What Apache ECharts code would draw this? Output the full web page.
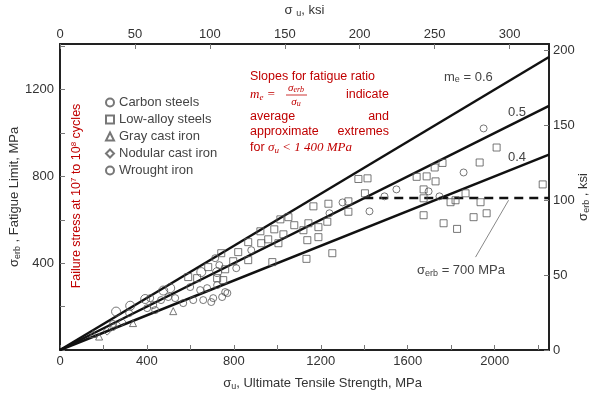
<!DOCTYPE html>
<html>
<head>
<meta charset="utf-8">
<script src="https://cdn.jsdelivr.net/npm/echarts@6/dist/echarts.min.js"></script>
<style>
  html, body { margin: 0; padding: 0; background: #fff; }
  #chart { width: 592px; height: 399px; }
</style>
</head>
<body>
<div id="chart"></div>
<script>
// axis ranges (MPa) and conversion to ksi
const xMaxMPa = 2250;
const yMaxMPa = 1410;
const mpaPerKsi = 6.895;

// data points [sigma_u MPa, sigma_erb MPa]
const carbonSteels = [
    [244, 120], [318, 170], [401, 193], [429, 207], [438, 184], [465, 230], [498, 244],
    [530, 239], [567, 216], [415, 239], [599, 290], [613, 230], [645, 276], [659, 230],
    [677, 285], [696, 221], [705, 239], [723, 299], [746, 244], [760, 267], [714, 423],
    [733, 391], [811, 377], [880, 460], [770, 262],
    [1240, 630], [1300, 680], [1424, 639], [1493, 708], [1548, 740], [1696, 731],
    [1746, 708], [1857, 818], [1949, 1021]
];
const lowAlloySteels = [
    [590, 336], [631, 331], [682, 382], [723, 331], [751, 322], [742, 446], [760, 372],
    [797, 409], [820, 451], [866, 497], [866, 414], [922, 547], [926, 492], [958, 510],
    [977, 405], [986, 556], [1005, 492], [1014, 602], [1028, 533], [1051, 612],
    [1078, 575], [1120, 552], [1138, 506], [1143, 584], [1134, 420], [1166, 662],
    [1189, 566], [1189, 520], [1230, 591], [1235, 674], [1253, 446], [1327, 685],
    [1327, 637], [1373, 788], [1415, 791], [1403, 722],
    [1641, 798], [1687, 800], [1724, 841], [1760, 862], [1728, 777], [1673, 740],
    [1673, 699], [1673, 621], [1765, 584], [1827, 558], [1797, 681], [1820, 690],
    [1866, 722], [1935, 681], [1903, 612], [1963, 630], [1931, 864], [2009, 933],
    [2221, 763]
];
const grayCastIron = [[152, 74], [180, 62], [336, 124], [521, 179]];
const nodularCastIron = [[217, 87], [286, 129], [246, 106]];
const wroughtIron = [[258, 177], [323, 204], [392, 235], [475, 274], [507, 285], [650, 359], [723, 359]];

// fatigue ratio lines and the 700 MPa cap
const line06 = [[0, 0], [2250, 1350]];
const line05 = [[0, 0], [2250, 1125]];
const line04 = [[0, 0], [2250, 900]];
const cap700 = [[1400, 700], [2250, 700]];
const leader = [[1912, 428], [2064, 690]];

const legendNames = ['Carbon steels', 'Low-alloy steels', 'Gray cast iron', 'Nodular cast iron', 'Wrought iron'];

const red = '#c00000';
const gray = '#555';
const font = 'Arial, "Liberation Sans", sans-serif';
const mathFont = '"Liberation Serif", "DejaVu Serif", serif';

let chart = echarts.init(document.getElementById('chart'));

function pointSeries(name, data, symbol, size) {
    return {
        name: name,
        type: 'scatter',
        data: data,
        symbol: symbol,
        symbolSize: size,
        itemStyle: {
            color: 'rgba(0,0,0,0)',
            borderColor: gray,
            borderWidth: 1
        },
        z: 3
    };
}

function straightLine(data, dashed) {
    return {
        type: 'line',
        data: data,
        symbol: 'none',
        silent: true,
        lineStyle: {
            color: '#111',
            width: 2.5,
            type: dashed ? [9, 6] : 'solid'
        },
        z: 2
    };
}

const axisText = { color: '#333', fontSize: 13, fontFamily: font };
const axisLineStyle = { onZero: false, lineStyle: { color: '#222', width: 2 } };
const tickStyle = { inside: true, length: 5, lineStyle: { color: '#777' } };
const subRich = {
    sub: { fontSize: 9, fontFamily: font, color: '#333', padding: [7, 0, 0, 0] }
};

chart.setOption({
    animation: false,
    grid: { left: 60, right: 43, top: 44, bottom: 49, outerBoundsMode: 'none' },
    legend: {
        data: legendNames,
        orient: 'vertical',
        left: 100,
        top: 91,
        itemWidth: 8,
        itemHeight: 8,
        itemGap: 4,
        textStyle: { color: '#444', fontSize: 13, fontFamily: font }
    },
    xAxis: [{
        type: 'value',
        position: 'bottom',
        min: 0,
        max: xMaxMPa,
        interval: 200,
        name: 'σ{sub|u}, Ultimate Tensile Strength, MPa',
        nameLocation: 'middle',
        nameGap: 25,
        nameMoveOverlap: false,
        nameTextStyle: { ...axisText, padding: [0, 0, 0, 36], rich: subRich },
        axisLine: axisLineStyle,
        axisTick: tickStyle,
        splitLine: { show: false },
        axisLabel: {
            ...axisText,
            margin: 5,
            showMaxLabel: false,
            formatter: v => (v % 400 === 0 ? String(v) : '')
        }
    }, {
        type: 'value',
        position: 'top',
        min: 0,
        max: xMaxMPa / mpaPerKsi,
        interval: 50,
        name: 'σ {sub|u}, ksi',
        nameLocation: 'middle',
        nameGap: 26,
        nameMoveOverlap: false,
        nameTextStyle: { ...axisText, rich: subRich },
        axisLine: axisLineStyle,
        axisTick: tickStyle,
        splitLine: { show: false },
        axisLabel: { ...axisText, margin: 3, showMaxLabel: false }
    }],
    yAxis: [{
        type: 'value',
        position: 'left',
        min: 0,
        max: yMaxMPa,
        interval: 200,
        name: 'σ{sub|erb} , Fatigue Limit, MPa',
        nameLocation: 'middle',
        nameGap: 38,
        nameMoveOverlap: false,
        nameTextStyle: { ...axisText, rich: subRich },
        axisLine: axisLineStyle,
        axisTick: tickStyle,
        splitLine: { show: false },
        axisLabel: {
            ...axisText,
            margin: 6,
            showMaxLabel: false,
            formatter: v => (v % 400 === 0 && v > 0 ? String(v) : '')
        }
    }, {
        type: 'value',
        position: 'right',
        min: 0,
        max: yMaxMPa / mpaPerKsi,
        interval: 50,
        name: 'σ{sub|erb} , ksi',
        nameLocation: 'middle',
        nameGap: 26,
        nameRotate: 90,
        nameMoveOverlap: false,
        nameTextStyle: { ...axisText, rich: subRich },
        axisLine: axisLineStyle,
        axisTick: tickStyle,
        splitLine: { show: false },
        axisLabel: { ...axisText, margin: 4, showMaxLabel: false }
    }],
    series: [
        straightLine(line06),
        straightLine(line05),
        straightLine(line04),
        straightLine(cap700, true),
        {
            type: 'line',
            data: leader,
            symbol: 'none',
            silent: true,
            lineStyle: { color: '#888', width: 1 },
            z: 2
        },
        pointSeries('Carbon steels', carbonSteels, 'circle', 7),
        pointSeries('Low-alloy steels', lowAlloySteels, 'rect', 7),
        pointSeries('Gray cast iron', grayCastIron, 'triangle', 7),
        pointSeries('Nodular cast iron', nodularCastIron, 'diamond', 8),
        pointSeries('Wrought iron', wroughtIron, 'circle', 9)
    ],
    graphic: [
        // slope labels
        {
            type: 'text', x: 444, y: 77,
            style: {
                text: 'm{s|e} = 0.6', fill: '#444', font: '13px ' + font, verticalAlign: 'middle',
                rich: { s: { fontSize: 9, fill: '#444', padding: [6, 0, 0, 0] } }
            }
        },
        { type: 'text', x: 508, y: 112, style: { text: '0.5', fill: '#444', font: '13px ' + font, verticalAlign: 'middle' } },
        { type: 'text', x: 508, y: 157, style: { text: '0.4', fill: '#444', font: '13px ' + font, verticalAlign: 'middle' } },
        {
            type: 'text', x: 417, y: 270,
            style: {
                text: 'σ{s|erb} = 700 MPa', fill: '#444', font: '13px ' + font, verticalAlign: 'middle',
                rich: { s: { fontSize: 9, fill: '#444', padding: [7, 0, 0, 0] } }
            }
        },
        // red note on fatigue ratio
        { type: 'text', x: 250, y: 77, style: { text: 'Slopes for fatigue ratio', fill: red, font: '12.5px ' + font, verticalAlign: 'middle' } },
        {
            type: 'text', x: 250, y: 95,
            style: {
                text: 'm{s|e} =', fill: red, font: 'italic 13px ' + mathFont, verticalAlign: 'middle',
                rich: { s: { fontSize: 9, fill: red, fontStyle: 'italic', fontFamily: mathFont, padding: [6, 0, 0, 0] } }
            }
        },
        {
            type: 'text', x: 296, y: 88,
            style: { text: 'σ{s|erb}', fill: red, font: 'italic 11px ' + mathFont, align: 'center', verticalAlign: 'middle',
                rich: { s: { fontSize: 8, fill: red, fontStyle: 'italic', fontFamily: mathFont, padding: [4, 0, 0, 0] } } }
        },
        { type: 'line', shape: { x1: 286, y1: 95, x2: 307, y2: 95 }, style: { stroke: red, lineWidth: 0.8 } },
        {
            type: 'text', x: 296, y: 102,
            style: { text: 'σ{s|u}', fill: red, font: 'italic 11px ' + mathFont, align: 'center', verticalAlign: 'middle',
                rich: { s: { fontSize: 8, fill: red, fontStyle: 'italic', fontFamily: mathFont, padding: [4, 0, 0, 0] } } }
        },
        { type: 'text', x: 389, y: 95, style: { text: 'indicate', fill: red, font: '12.5px ' + font, align: 'right', verticalAlign: 'middle' } },
        { type: 'text', x: 250, y: 117, style: { text: 'average', fill: red, font: '12.5px ' + font, verticalAlign: 'middle' } },
        { type: 'text', x: 389, y: 117, style: { text: 'and', fill: red, font: '12.5px ' + font, align: 'right', verticalAlign: 'middle' } },
        { type: 'text', x: 250, y: 132, style: { text: 'approximate', fill: red, font: '12.5px ' + font, verticalAlign: 'middle' } },
        { type: 'text', x: 389, y: 132, style: { text: 'extremes', fill: red, font: '12.5px ' + font, align: 'right', verticalAlign: 'middle' } },
        {
            type: 'text', x: 250, y: 148,
            style: {
                text: 'for {m|σ}{s|u}{m| < 1 400 MPa}', fill: red, font: '12.5px ' + font, verticalAlign: 'middle',
                rich: {
                    m: { fontSize: 13, fill: red, fontStyle: 'italic', fontFamily: mathFont },
                    s: { fontSize: 9, fill: red, fontStyle: 'italic', fontFamily: mathFont, padding: [6, 0, 0, 0] }
                }
            }
        },
        // vertical red note
        {
            type: 'text', x: 77, y: 196, rotation: Math.PI / 2,
            style: {
                text: 'Failure stress at 10{p|7} to 10{p|8} cycles', fill: red, font: '12.5px ' + font,
                align: 'center', verticalAlign: 'middle',
                rich: { p: { fontSize: 8, fill: red, padding: [0, 0, 7, 0] } }
            }
        }
    ]
});
</script>
</body>
</html>
